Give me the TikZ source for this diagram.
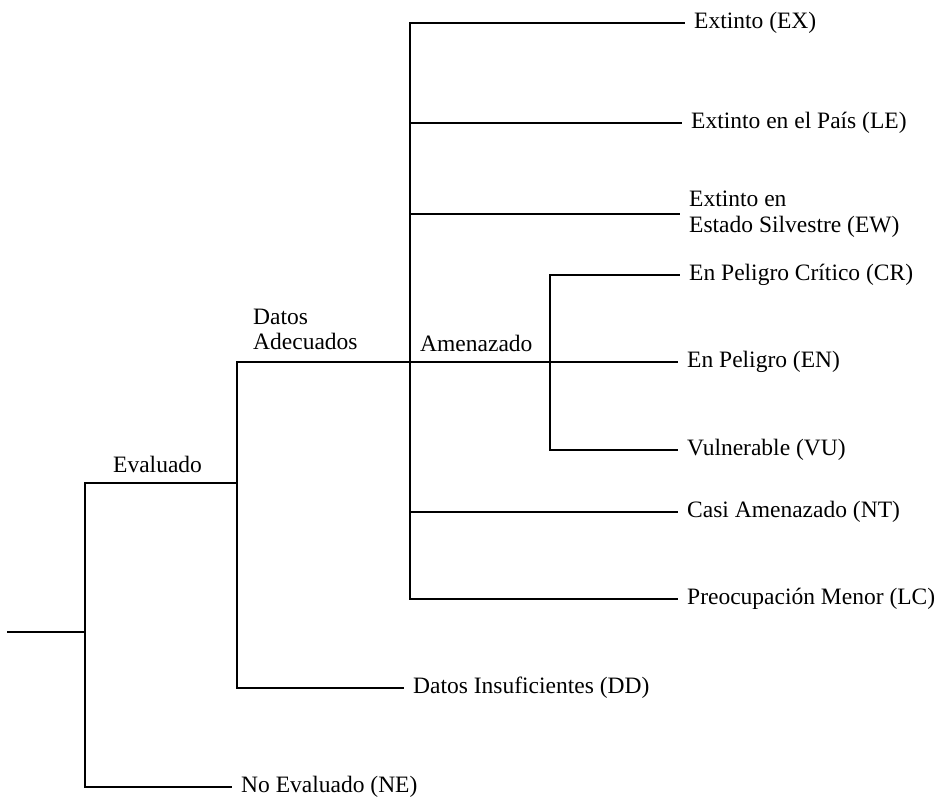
\documentclass[tikz,border=0pt]{standalone}
\usepackage{fontspec}
\setmainfont{Liberation Serif}
\newcommand\treefs{\fontsize{23.5}{25.5}\selectfont}
\begin{document}
\begin{tikzpicture}[x=1pt,y=-1pt,
  edge/.style={line width=1.8pt, line join=miter},
  leaf/.style={anchor=west, inner xsep=9pt, inner ysep=0pt, align=left, font=\treefs},
  lbl/.style={anchor=south west, inner sep=0pt, text depth=0pt, align=left, font=\treefs}]
\useasboundingbox (0,0) rectangle (941,802);

% junctions
\coordinate (r0) at (7,632);
\coordinate (j1) at (85,632);
\coordinate (j2) at (237,483);
\coordinate (j3) at (410,362);
\coordinate (j4) at (550,362);

% leaves
\node[leaf] (EX) at (685,23) {Extinto (EX)};
\node[leaf] (LE) at (682,123) {Extinto en el País (LE)};
\node[leaf] (EW) at (680,214) {Extinto en\\Estado Silvestre (EW)};
\node[leaf] (CR) at (680,275) {En Peligro Crítico (CR)};
\node[leaf] (EN) at (678,362) {En Peligro (EN)};
\node[leaf] (VU) at (678,450) {Vulnerable (VU)};
\node[leaf] (NT) at (678,512) {Casi Amenazado (NT)};
\node[leaf] (LC) at (678,599) {Preocupación Menor (LC)};
\node[leaf] (DD) at (404,688) {Datos Insuficientes (DD)};
\node[leaf] (NE) at (232,787) {No Evaluado (NE)};

% branch labels
\node[lbl] (lEv) at (113,473) {Evaluado};
\node[lbl] (lDA) at (253,350) {Datos\\Adecuados};
\node[lbl] (lAm) at (420,352) {Amenazado};

% connectors
\draw[edge] (r0) -- (j1);
\draw[edge] (j1) |- (j2);
\draw[edge] (j1) |- (NE.west);
\draw[edge] (j2) |- (j3);
\draw[edge] (j2) |- (DD.west);
\draw[edge] (j3) |- (EX.west);
\draw[edge] (j3) |- (LE.west);
\draw[edge] (j3) |- (EW.west);
\draw[edge] (j3) |- (NT.west);
\draw[edge] (j3) |- (LC.west);
\draw[edge] (j3) -- (j4);
\draw[edge] (j4) |- (CR.west);
\draw[edge] (j4) -- (EN.west);
\draw[edge] (j4) |- (VU.west);
\end{tikzpicture}
\end{document}
